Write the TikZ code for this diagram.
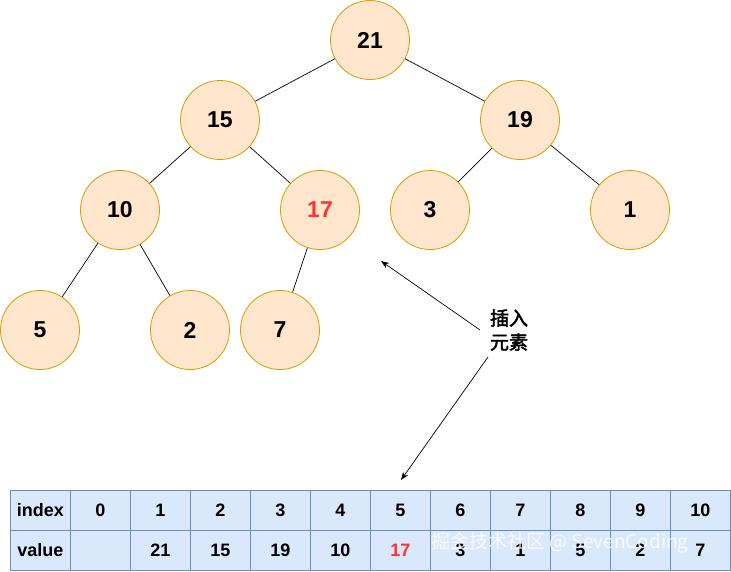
\documentclass[tikz,border=0pt]{standalone}
\usepackage{fontspec}
\setmainfont{Liberation Sans}
\newfontfamily\cjk{Noto Sans CJK SC}[AutoFakeBold=2.5]
\usetikzlibrary{arrows.meta}
\definecolor{nodefill}{HTML}{FFE6CC}
\definecolor{nodedraw}{HTML}{D79B00}
\definecolor{tabfill}{HTML}{DAE8FC}
\definecolor{tabdraw}{HTML}{6C8EBF}
\definecolor{hot}{HTML}{FF3333}
\tikzset{
  heapnode/.style={circle, draw=nodedraw, fill=nodefill, line width=0.8pt, minimum size=79pt, inner sep=0pt,
    font=\fontsize{23}{27}\selectfont\bfseries},
  cell/.style={draw=tabdraw, fill=tabfill, line width=0.8pt, minimum width=60pt, minimum height=40pt, inner sep=0pt,
    font=\fontsize{18}{21}\selectfont\bfseries},
  edge/.style={draw=black, line width=0.7pt},
  arr/.style={draw=black, line width=0.7pt, -{Stealth[length=8pt,width=6pt]}}
}
\begin{document}
\begin{tikzpicture}[x=1pt,y=-1pt]
\useasboundingbox (0,0) rectangle (731,571);
% tree nodes
\node[heapnode] (n21) at (370,40) {21};
\node[heapnode] (n15) at (220,120) {15};
\node[heapnode] (n19) at (520,120) {19};
\node[heapnode] (n10) at (120,210) {10};
\node[heapnode, text=hot] (n17) at (320,210) {17};
\node[heapnode] (n3) at (430,210) {3};
\node[heapnode] (n1) at (630,210) {1};
\node[heapnode] (n5) at (40,330) {5};
\node[heapnode] (n2) at (190,330) {2};
\node[heapnode] (n7) at (280,330) {7};
% edges
\draw[edge] (n21) -- (n15);
\draw[edge] (n21) -- (n19);
\draw[edge] (n15) -- (n10);
\draw[edge] (n15) -- (n17);
\draw[edge] (n19) -- (n3);
\draw[edge] (n19) -- (n1);
\draw[edge] (n10) -- (n5);
\draw[edge] (n10) -- (n2);
\draw[edge] (n17) -- (n7);
% label and arrows
\node[font=\cjk\fontsize{19}{24}\selectfont\bfseries, align=center, inner sep=0pt] (lbl) at (509,330) {插入\\元素};
\coordinate (s1) at (480,330);
\coordinate (t1) at (381,261);
\coordinate (s2) at (488,357);
\coordinate (t2) at (401,480);
\draw[arr] (s1) -- (t1);
\draw[arr] (s2) -- (t2);
% table
\node[cell, anchor=north west] (h0) at (10,490) {index};
\node[cell, anchor=north west] (v0) at (10,530) {value};
\foreach \i/\val [count=\k from 0] in {0/{},1/21,2/15,3/19,4/10,5/{\textcolor{hot}{17}},6/3,7/1,8/5,9/2,10/7} {
  \node[cell, anchor=north west] (hc\i) at (70+60*\k,490) {\i};
  \node[cell, anchor=north west] (vc\i) at (70+60*\k,530) {\val};
}
% watermark
\node[font=\cjk\fontsize{19}{22}\selectfont, text=white, opacity=0.8, anchor=west, inner sep=0pt] (wm) at (431,543) {掘金技术社区 @ SevenCoding};
\end{tikzpicture}
\end{document}
